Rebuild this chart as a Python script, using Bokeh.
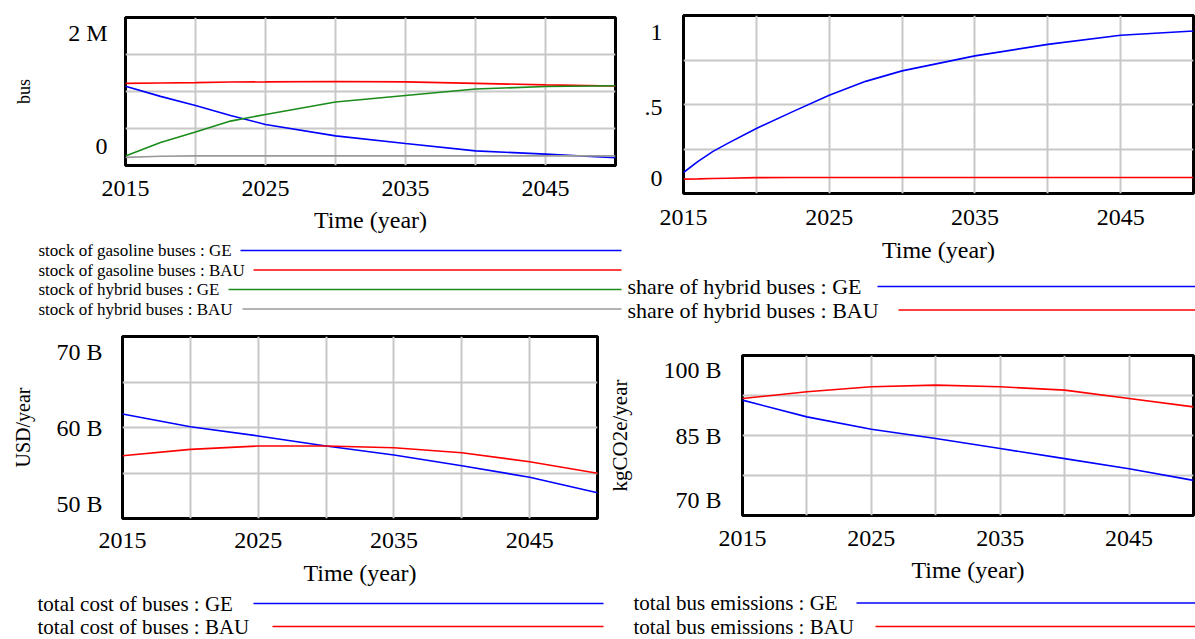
from bokeh.plotting import figure
from bokeh.layouts import row, column
from bokeh.models import Range1d, FixedTicker
from bokeh.embed import file_html
from bokeh.resources import INLINE
from bokeh.core.properties import value

FONT = "Liberation Serif"
BLUE = "#0000ff"
RED = "#ff0000"
GREEN = "#1a8c1a"
GRAY = "#999999"
GRID = "#c8c8c8"

# ---------------- data ----------------
x_ticks = [2015, 2025, 2035, 2045]
x_grid = [2020, 2025, 2030, 2035, 2040, 2045]

# panel 1: stocks of buses (million buses)
stock_years = [2015, 2017.5, 2020, 2022.5, 2025, 2030, 2035, 2040, 2045, 2050]
gasoline_GE = [1.07, 0.934, 0.81, 0.675, 0.555, 0.40, 0.297, 0.198, 0.154, 0.104]
gasoline_BAU = [1.11, 1.115, 1.12, 1.128, 1.13, 1.135, 1.13, 1.11, 1.09, 1.075]
hybrid_GE = [0.13, 0.31, 0.452, 0.60, 0.689, 0.859, 0.947, 1.033, 1.068, 1.077]
hybrid_BAU = [0.11, 0.125, 0.13, 0.13, 0.13, 0.13, 0.13, 0.13, 0.13, 0.13]
stock_labels = ["stock of gasoline buses : GE", "stock of gasoline buses : BAU",
                "stock of hybrid buses : GE", "stock of hybrid buses : BAU"]
stock_ticklabels = ["0", "2 M"]

# panel 2: share of hybrid buses
share_years = [2015, 2016, 2017, 2018, 2020, 2022.5, 2025, 2027.5, 2030, 2035, 2040, 2045, 2050]
share_GE = [0.118, 0.18, 0.235, 0.28, 0.365, 0.46, 0.552, 0.63, 0.689, 0.773, 0.838, 0.889, 0.913]
share_BAU = [0.081, 0.082, 0.084, 0.086, 0.089, 0.09, 0.09, 0.09, 0.09, 0.09, 0.09, 0.09, 0.09]
share_labels = ["share of hybrid buses : GE", "share of hybrid buses : BAU"]
share_ticklabels = ["0", ".5", "1"]

# panel 3: total cost of buses (billion USD/year)
years5 = [2015, 2020, 2025, 2030, 2035, 2040, 2045, 2050]
cost_GE = [61.48, 60.09, 59.07, 57.97, 56.98, 55.80, 54.53, 52.84]
cost_BAU = [56.90, 57.60, 57.97, 57.97, 57.78, 57.23, 56.24, 54.97]
cost_labels = ["total cost of buses : GE", "total cost of buses : BAU"]
cost_ticklabels = ["50 B", "60 B", "70 B"]

# panel 4: total bus emissions (billion kgCO2e/year)
emis_GE = [91.63, 88.49, 86.18, 84.43, 82.55, 80.66, 78.78, 76.58]
emis_BAU = [91.95, 93.19, 94.13, 94.45, 94.13, 93.51, 91.95, 90.37]
emis_labels = ["total bus emissions : GE", "total bus emissions : BAU"]
emis_ticklabels = ["70 B", "85 B", "100 B"]


def chart(width, height, borders, yr, tick_labels, insets, y_title, title_size,
          x_standoff, x_title_standoff, y_standoff, y_title_standoff):
    left, right, top, bottom = borders
    p = figure(width=width, height=height, output_backend="svg", toolbar_location=None,
               x_range=Range1d(2015, 2050), y_range=Range1d(*yr),
               min_border_left=left, min_border_right=right,
               min_border_top=top, min_border_bottom=bottom)
    p.frame_align = False
    fh = height - top - bottom
    span = yr[1] - yr[0]
    # Vensim style: extreme labels are drawn inset from the frame edges
    pos = [yr[0] + span * insets[0] / fh]
    if len(tick_labels) == 3:
        pos.append(yr[0] + span / 2 - span * insets[2] / fh)
    pos.append(yr[1] - span * insets[1] / fh)
    p.yaxis.ticker = FixedTicker(ticks=pos)
    p.yaxis.major_label_overrides = {v: t for v, t in zip(pos, tick_labels)}
    p.xaxis.ticker = FixedTicker(ticks=x_ticks)
    p.xgrid.ticker = FixedTicker(ticks=x_grid)
    p.ygrid.ticker = FixedTicker(ticks=[yr[0] + span * k / 4 for k in (1, 2, 3)])
    for g in (p.xgrid, p.ygrid):
        g.grid_line_color = GRID
        g.grid_line_width = 2
    for ax in (p.xaxis, p.yaxis):
        ax.axis_line_color = None
        ax.major_tick_line_color = None
        ax.minor_tick_line_color = None
        ax.major_tick_out = 0
        ax.major_tick_in = 0
        ax.minor_tick_out = 0
        ax.major_label_text_font = FONT
        ax.major_label_text_font_size = "24px"
        ax.major_label_text_color = "black"
        ax.axis_label_text_font = FONT
        ax.axis_label_text_font_style = "normal"
        ax.axis_label_text_color = "black"
    p.xaxis.axis_label = "Time (year)"
    p.xaxis.axis_label_text_font_size = "24px"
    p.xaxis.major_label_standoff = x_standoff
    p.xaxis.axis_label_standoff = x_title_standoff
    p.yaxis.major_label_standoff = y_standoff
    if y_title:
        p.yaxis.axis_label = y_title
        p.yaxis.axis_label_text_font_size = title_size
        p.yaxis.axis_label_standoff = y_title_standoff
    p.outline_line_color = "black"
    p.outline_line_width = 3
    p.background_fill_color = "white"
    p.border_fill_color = "white"
    return p


def legend(width, height, labels, colors, font_size, text_x, rows_y, starts, end):
    p = figure(width=width, height=height, output_backend="svg", toolbar_location=None,
               x_range=Range1d(0, width), y_range=Range1d(height, 0),
               x_axis_type=None, y_axis_type=None,
               min_border_left=0, min_border_right=0, min_border_top=0, min_border_bottom=0)
    p.frame_align = False
    p.grid.visible = False
    p.outline_line_color = None
    p.text(x=[text_x] * len(labels), y=rows_y, text=labels, text_font=value(FONT),
           text_font_size=value(font_size), text_baseline="middle", text_align="left",
           text_color="black")
    p.segment(x0=starts, y0=rows_y, x1=[end] * len(labels), y1=rows_y,
              line_color=colors, line_width=1.6)
    return p


# ---- panel 1  (column x 0..623, chart y 0..235, legend y 235..324)
p1 = chart(623, 235, (125, 8, 17, 69), (0, 2), stock_ticklabels, (20, 16), "bus", "18px",
           15, 8, 18, 31)
p1.line(stock_years, gasoline_GE, line_color=BLUE, line_width=1.6)
p1.line(stock_years, gasoline_BAU, line_color=RED, line_width=1.6)
p1.line(stock_years, hybrid_GE, line_color=GREEN, line_width=1.6)
p1.line(stock_years, hybrid_BAU, line_color=GRAY, line_width=1.6)
l1 = legend(623, 89, stock_labels, [BLUE, RED, GREEN, GRAY], "17px", 38,
            [15, 34.5, 54, 73.5], [240, 253, 228, 242], 621)

# ---- panel 2  (column x 623..1195, chart y 0..268, legend y 268..324)
p2 = chart(572, 268, (60, 2, 15, 75), (0, 1), share_ticklabels, (15, 17, 2.5), None, None,
           16, 9, 21, 0)
p2.line(share_years, share_GE, line_color=BLUE, line_width=1.6)
p2.line(share_years, share_BAU, line_color=RED, line_width=1.6)
l2 = legend(572, 56, share_labels, [BLUE, RED], "22px", 4, [18, 41.5], [254, 275], 572)

# ---- panel 3  (column x 0..605, chart y 324..590, legend y 590..639)
p3 = chart(605, 266, (122, 8, 12, 72), (50, 70), cost_ticklabels, (15, 15, 0), "USD/year", "20px",
           14, 9, 20, 19)
p3.line(years5, cost_GE, line_color=BLUE, line_width=1.6)
p3.line(years5, cost_BAU, line_color=RED, line_width=1.6)
l3 = legend(605, 49, cost_labels, [BLUE, RED], "21px", 37, [13, 36], [253, 272], 603)

# ---- panel 4  (column x 605..1195, chart y 324..590, legend y 590..639)
p4 = chart(590, 266, (126, 2, 31, 75), (70, 100), emis_ticklabels, (16, 14, 0), "kgCO2e/year", "21px",
           15, 8, 21, 28)
p4.line(years5, emis_GE, line_color=BLUE, line_width=1.6)
p4.line(years5, emis_BAU, line_color=RED, line_width=1.6)
l4 = legend(590, 49, emis_labels, [BLUE, RED], "21px", 28, [12.5, 36], [251, 270], 590)

layout = column(row(column(p1, l1), column(p2, l2)),
                row(column(p3, l3), column(p4, l4)))

open("out.html", "w").write(file_html(layout, INLINE))
